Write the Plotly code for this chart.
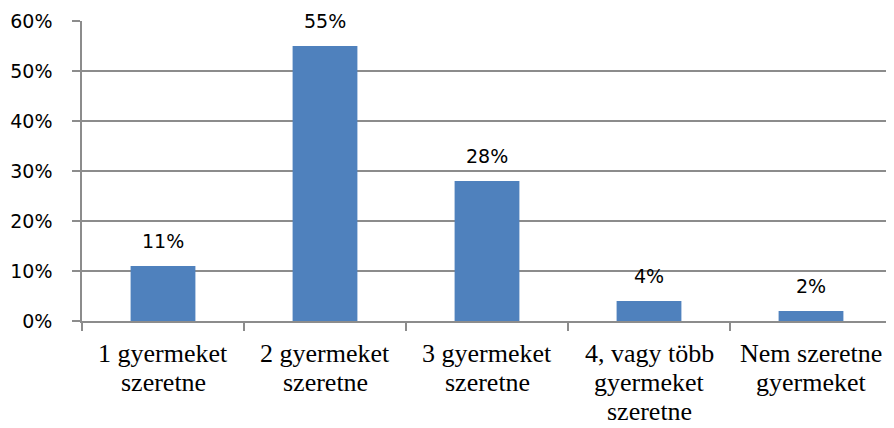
import plotly.graph_objects as go

categories = ["1 gyermeket<br>szeretne", "2 gyermeket<br>szeretne", "3 gyermeket<br>szeretne",
              "4, vagy több<br>gyermeket<br>szeretne", "Nem szeretne<br>gyermeket"]
values = [0.11, 0.55, 0.28, 0.04, 0.02]
labels = ["11%", "55%", "28%", "4%", "2%"]
y_ticks = [0, 0.1, 0.2, 0.3, 0.4, 0.5, 0.6]
y_tick_text = ["0%", "10%", "20%", "30%", "40%", "50%", "60%"]

grid = "#8c8c8c"
sans = "DejaVu Sans"
serif = "Liberation Serif"

fig = go.Figure()
fig.add_trace(go.Bar(x=categories, y=values, width=0.4, marker=dict(color="#4f81bd", line=dict(width=0))))

for c, v, t in zip(categories, values, labels):
    fig.add_annotation(x=c, y=v, text=t, showarrow=False, yanchor="bottom", yshift=12,
                       font=dict(family=sans, size=19, color="black"))

# category labels drawn as annotations, one per line
for c in categories:
    for i, ln in enumerate(c.split("<br>")):
        fig.add_annotation(x=c, xref="x", y=0, yref="paper", text=ln, showarrow=False,
                           yanchor="top", yshift=-16 - 29 * i,
                           font=dict(family=serif, size=26, color="black"))

fig.update_layout(
    width=886, height=420,
    margin=dict(l=70, r=2, t=8, b=107),
    paper_bgcolor="white", plot_bgcolor="white",
    showlegend=False,
    xaxis=dict(showline=True, linecolor=grid, linewidth=1.5, ticks="outside", tickson="boundaries",
               ticklen=8, tickcolor=grid, tickwidth=1.5, showticklabels=False),
    yaxis=dict(range=[0, 0.6], tickvals=y_ticks, ticktext=y_tick_text, showgrid=True, gridcolor=grid,
               gridwidth=1.5, showline=True, linecolor=grid, linewidth=1.5, ticks="outside", ticklen=8,
               tickcolor=grid, tickwidth=1.5, zeroline=False, ticklabelstandoff=16,
               ticklabeloverflow="allow",
               tickfont=dict(family=sans, size=19, color="black")),
)
fig.write_html("out.html")
